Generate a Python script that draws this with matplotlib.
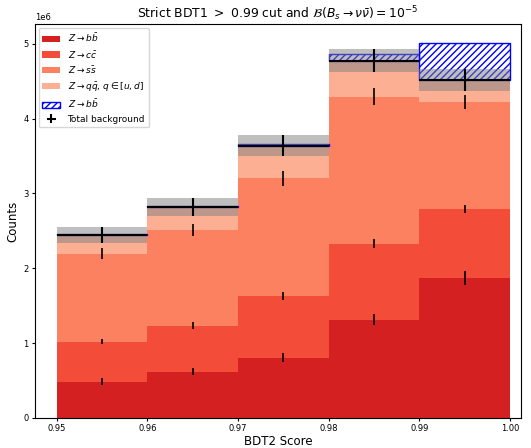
import numpy as np
import matplotlib.pyplot as plt

# bin edges in BDT2 score
edges = np.array([0.95, 0.96, 0.97, 0.98, 0.99, 1.00])

# stacked background components (counts)
bb = np.array([0.485, 0.618, 0.804, 1.311, 1.870]) * 1e6
cc = np.array([0.535, 0.613, 0.827, 1.017, 0.920]) * 1e6
ss = np.array([1.176, 1.279, 1.573, 1.962, 1.432]) * 1e6
qq = np.array([0.252, 0.307, 0.432, 0.485, 0.286]) * 1e6

# statistical errors per component
bb_err = np.array([0.045, 0.047, 0.060, 0.073, 0.090]) * 1e6
cc_err = np.array([0.035, 0.045, 0.050, 0.058, 0.053]) * 1e6
ss_err = np.array([0.070, 0.085, 0.100, 0.113, 0.090]) * 1e6
tot_err = np.array([0.107, 0.120, 0.140, 0.157, 0.147]) * 1e6

# signal
sig = np.array([0.012, 0.015, 0.025, 0.093, 0.505]) * 1e6

labels = [r"$Z \rightarrow b\bar{b}$", r"$Z \rightarrow c\bar{c}$",
          r"$Z \rightarrow s\bar{s}$", r"$Z \rightarrow q\bar{q}$, $q \in [u, d]$"]
colors = ["#d42020", "#f34d39", "#fb8161", "#fcaf93"]

width = np.diff(edges)
centers = edges[:-1] + width / 2

fig = plt.figure(figsize=(5.31, 4.48), dpi=100)
ax = fig.add_axes([0.066, 0.067, 0.915, 0.879])

bottom = np.zeros(len(centers))
for vals, errs, lab, col in zip([bb, cc, ss, qq], [bb_err, cc_err, ss_err, None], labels, colors):
    ax.bar(edges[:-1], vals, width=width, bottom=bottom, align="edge", color=col, label=lab)
    if errs is not None:
        ax.errorbar(centers, bottom + vals, yerr=errs, fmt="none", color="black", lw=1.2)
    bottom = bottom + vals
total = bottom

ax.bar(edges[:-1], sig, width=width, bottom=total, align="edge", fill=False,
       edgecolor="blue", hatch="/////", lw=1, label=r"$Z \rightarrow b\bar{b}$")
ax.bar(edges[:-1], 2 * tot_err, width=width, bottom=total - tot_err, align="edge",
       color="grey", alpha=0.5)
ax.errorbar(centers, total, xerr=width / 2, yerr=tot_err, fmt="none", color="black",
            lw=1.5, label="Total background")

ax.set_xlim(0.9476, 1.0012)
ax.set_ylim(0, 5.26e6)
ax.set_xlabel("BDT2 Score", fontsize=8.5, labelpad=1)
ax.set_ylabel("Counts", fontsize=8.5, labelpad=3)
ax.set_title(r"Strict BDT1 $>$ 0.99 cut and $\mathcal{B}(B_s \rightarrow \nu\bar{\nu}) = 10^{-5}$",
             fontsize=8.9, pad=4)
ax.tick_params(labelsize=6, length=2.5, pad=2)
ax.yaxis.get_offset_text().set_fontsize(6)
ax.legend(loc="upper left", fontsize=6.5, borderaxespad=0.4)

fig.savefig("out.png", dpi=100)
